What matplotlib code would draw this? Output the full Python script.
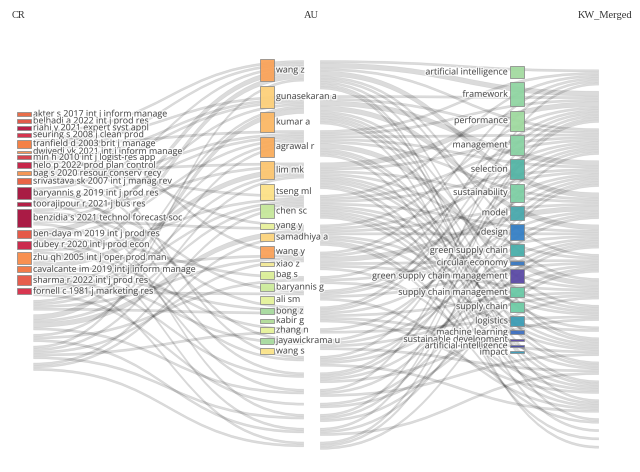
from matplotlib import pyplot as plt
from matplotlib import patches as mpatches
from matplotlib.path import Path
from matplotlib import patheffects as pe

# dados: rótulos das três colunas
cr_labels = ['akter s 2017 int j inform manage', 'belhadi a 2022 int j prod res',
             'riahi y 2021 expert syst appl', 'seuring s 2008 j clean prod',
             'tranfield d 2003 brit j manage', 'dwivedi yk 2021 int j inform manage',
             'min h 2010 int j logist-res app', 'helo p 2022 prod plan control',
             'bag s 2020 resour conserv recy', 'srivastava sk 2007 int j manag rev',
             'baryannis g 2019 int j prod res', 'toorajipour r 2021 j bus res',
             'benzidia s 2021 technol forecast soc', 'ben-daya m 2019 int j prod res',
             'dubey r 2020 int j prod econ', 'zhu qh 2005 int j oper prod man',
             'cavalcante im 2019 int j inform manage', 'sharma r 2022 int j prod res',
             'fornell c 1981 j marketing res']

au_labels = ['wang z', 'gunasekaran a', 'kumar a', 'agrawal r', 'lim mk', 'tseng ml',
             'chen sc', 'yang y', 'samadhiya a', 'wang y', 'xiao z', 'bag s',
             'baryannis g', 'ali sm', 'bong z', 'kabir g', 'zhang n', 'jayawickrama u',
             'wang s']

kw_labels = ['artificial intelligence', 'framework', 'performance', 'management',
             'selection', 'sustainability', 'model', 'design', 'green supply chain',
             'circular economy', 'green supply chain management', 'supply chain management',
             'supply chain', 'logistics', 'machine learning', 'sustainable development',
             'artificial-intelligence', 'impact']

# ligações CR -> AU (origem, destino, valor)
links_cr_au = [
    (0, 0, 1), (0, 6, 1), (1, 1, 1), (1, 2, 1), (2, 0, 1), (2, 12, 1),
    (3, 1, 1), (3, 5, 1), (4, 1, 1), (4, 3, 1), (4, 4, 1), (4, 11, 1),
    (5, 2, 1), (6, 0, 1), (6, 13, 1), (7, 2, 1), (7, 8, 1), (7, 16, 1),
    (8, 3, 1), (8, 9, 1), (9, 1, 1), (9, 5, 1), (9, 14, 1),
    (10, 0, 2), (10, 2, 1), (10, 7, 1), (10, 12, 1), (10, 17, 1),
    (11, 4, 1), (11, 10, 1),
    (12, 0, 2), (12, 3, 2), (12, 6, 1), (12, 9, 1), (12, 11, 1), (12, 13, 1), (12, 18, 1),
    (13, 2, 1), (13, 4, 1), (13, 8, 1), (13, 15, 1),
    (14, 1, 1), (14, 3, 1), (14, 6, 1), (14, 9, 1),
    (15, 1, 2), (15, 4, 1), (15, 5, 2), (15, 14, 1),
    (16, 2, 1), (16, 7, 1), (16, 17, 1),
    (17, 0, 1), (17, 3, 1), (17, 6, 1), (17, 10, 1), (17, 16, 1),
    (18, 4, 1), (18, 5, 1), (18, 18, 1),
]

# ligações AU -> KW_Merged
links_au_kw = [
    (0, 0, 1), (0, 1, 2), (0, 2, 1), (0, 4, 2), (0, 6, 1), (0, 7, 1), (0, 10, 1), (0, 13, 1), (0, 14, 1),
    (1, 1, 1), (1, 2, 1), (1, 3, 2), (1, 5, 2), (1, 8, 1), (1, 10, 1), (1, 11, 1), (1, 12, 1), (1, 15, 1),
    (2, 0, 1), (2, 1, 1), (2, 2, 1), (2, 3, 1), (2, 4, 1), (2, 7, 2), (2, 11, 1), (2, 12, 1), (2, 17, 1),
    (3, 1, 2), (3, 2, 1), (3, 4, 1), (3, 6, 1), (3, 8, 1), (3, 9, 1), (3, 10, 1), (3, 13, 1), (3, 16, 1),
    (4, 0, 1), (4, 2, 1), (4, 3, 1), (4, 5, 1), (4, 7, 1), (4, 8, 1), (4, 10, 1), (4, 11, 1), (4, 12, 1),
    (5, 1, 1), (5, 3, 1), (5, 4, 1), (5, 5, 1), (5, 8, 1), (5, 10, 1), (5, 13, 1), (5, 14, 1),
    (6, 0, 1), (6, 2, 1), (6, 4, 2), (6, 6, 1), (6, 7, 1), (6, 12, 1),
    (7, 1, 1), (7, 5, 1), (7, 9, 1),
    (8, 2, 1), (8, 3, 1), (8, 6, 1), (8, 13, 1),
    (9, 0, 1), (9, 1, 1), (9, 4, 1), (9, 7, 1), (9, 10, 1), (9, 12, 1),
    (10, 3, 1), (10, 8, 1),
    (11, 2, 1), (11, 5, 1), (11, 7, 1), (11, 11, 1),
    (12, 1, 1), (12, 4, 1), (12, 6, 1), (12, 13, 1),
    (13, 2, 1), (13, 3, 1), (13, 5, 1), (13, 8, 1),
    (14, 0, 1), (14, 4, 1), (14, 10, 1),
    (15, 5, 1), (15, 7, 1),
    (16, 1, 1), (16, 3, 1), (16, 6, 1),
    (17, 1, 1), (17, 5, 1), (17, 11, 1),
    (18, 2, 1), (18, 3, 1), (18, 6, 1),
]

# cores dos nós
cr_colors = ['#e8653f', '#e0503f', '#b5123e', '#d42a45', '#f47a3c', '#f8914e', '#d23a45',
             '#c41b40', '#f5904d', '#e85b3c', '#a50f3a', '#b0143c', '#a60e3b', '#e4513e',
             '#c91f42', '#f88a48', '#f17440', '#e55443', '#d62b46']
au_colors = ['#f9a35a', '#fdd07a', '#fbb865', '#f9ac5c', '#fcc671', '#fce187', '#c6e79b',
             '#e8f29c', '#fdd57e', '#f9a159', '#f3e996', '#dcef98', '#cdeb9c', '#e4f29a',
             '#a8db9f', '#b0dc98', '#e6f39a', '#a9dc9f', '#fbe48a']
kw_colors = ['#a3dba0', '#90d5a2', '#a0daa0', '#89d2a3', '#55b5a6', '#7fcfa5', '#4aa9ad',
             '#3680c5', '#4aaeaa', '#3a78c0', '#5b4aa5', '#6ac9a6', '#6fcca6', '#3d9db5',
             '#3e6fbf', '#5a48a3', '#4b4ea8', '#3a9ab8']


# valores dos nós a partir das ligações
def sums(links, n, idx):
    s = [0] * n
    for l in links:
        s[l[idx]] += l[2]
    return s


cr_val = sums(links_cr_au, len(cr_labels), 0)
au_val = [max(a, b) for a, b in zip(sums(links_cr_au, len(au_labels), 1),
                                    sums(links_au_kw, len(au_labels), 0))]
kw_val = sums(links_au_kw, len(kw_labels), 1)

# layout (pixels)
k = 2.0
node_w = 14
cols = [dict(x=17, top=112, gap=2.9), dict(x=260, top=59, gap=4.5), dict(x=510, top=66, gap=4.3)]


def stack(values, col):
    pos, y = [], col['top']
    for v in values:
        pos.append(y)
        y += v * k + col['gap']
    return pos


cr_y = stack(cr_val, cols[0])
au_y = stack(au_val, cols[1])
kw_y = stack(kw_val, cols[2])

# camada das ligações fica deslocada/escalada em relação aos nós
sx, sy, x0, y0 = 1.18, 1.32, 17, 55


def tx(x):
    return x0 + (x - x0) * sx


def ty(y):
    return y0 + (y - y0) * sy


fig = plt.figure(figsize=(6.4, 4.72), dpi=100)
ax = fig.add_axes([0, 0, 1, 1])
ax.set_xlim(0, 640)
ax.set_ylim(472, 0)
ax.axis('off')


def draw_links(links, src_y, tgt_y, xs, xt):
    out_off = list(src_y)
    in_off = list(tgt_y)
    # posições de saída ordenadas pelo destino, de entrada pela origem
    start = {}
    for s, t, v in sorted(links, key=lambda l: (l[0], l[1])):
        start[(s, t)] = out_off[s]
        out_off[s] += v * k
    end = {}
    for s, t, v in sorted(links, key=lambda l: (l[1], l[0])):
        end[(s, t)] = in_off[t]
        in_off[t] += v * k
    x1, x2 = tx(xs), tx(xt)
    xm = (x1 + x2) / 2
    for s, t, v in links:
        a0, a1 = ty(start[(s, t)]) + 0.15, ty(start[(s, t)] + v * k) - 0.15
        b0, b1 = ty(end[(s, t)]) + 0.15, ty(end[(s, t)] + v * k) - 0.15
        verts = [(x1, a0), (xm, a0), (xm, b0), (x2, b0), (x2, b1),
                 (xm, b1), (xm, a1), (x1, a1), (x1, a0)]
        codes = [Path.MOVETO, Path.CURVE4, Path.CURVE4, Path.CURVE4, Path.LINETO,
                 Path.CURVE4, Path.CURVE4, Path.CURVE4, Path.CLOSEPOLY]
        ax.add_patch(mpatches.PathPatch(Path(verts, codes), facecolor=(0, 0, 0, 0.14),
                                        edgecolor=(0, 0, 0, 0.07), lw=0.4, zorder=1))


draw_links(links_cr_au, cr_y, au_y, cols[0]['x'] + node_w, cols[1]['x'])
draw_links(links_au_kw, au_y, kw_y, cols[1]['x'] + node_w, cols[2]['x'])

halo = [pe.withStroke(linewidth=2, foreground='white', alpha=0.75)]


def draw_nodes(labels, values, ys, colors, col, side):
    for lab, v, y, c in zip(labels, values, ys, colors):
        h = v * k
        ax.add_patch(mpatches.Rectangle((col['x'], y), node_w, h, facecolor=c,
                                        edgecolor='#8a8a8a', lw=0.6, alpha=0.95, zorder=2))
        if side == 'right':
            ax.text(col['x'] + node_w + 2, y + h / 2, lab, ha='left', va='center',
                    fontsize=6.4, family='Open Sans', color='#4a4a4a',
                    path_effects=halo, zorder=3)
        else:
            ax.text(col['x'] - 2, y + h / 2, lab, ha='right', va='center',
                    fontsize=6.4, family='Open Sans', color='#4a4a4a',
                    path_effects=halo, zorder=3)


draw_nodes(cr_labels, cr_val, cr_y, cr_colors, cols[0], 'right')
draw_nodes(au_labels, au_val, au_y, au_colors, cols[1], 'right')
draw_nodes(kw_labels, kw_val, kw_y, kw_colors, cols[2], 'left')

# títulos das colunas
for txt, x, ha in [('CR', 12, 'left'), ('AU', 311, 'center'), ('KW_Merged', 632, 'right')]:
    ax.text(x, 16, txt, ha=ha, va='center', fontsize=7.5, family='Liberation Serif', color='#333333')

fig.savefig('out.png', dpi=100)
